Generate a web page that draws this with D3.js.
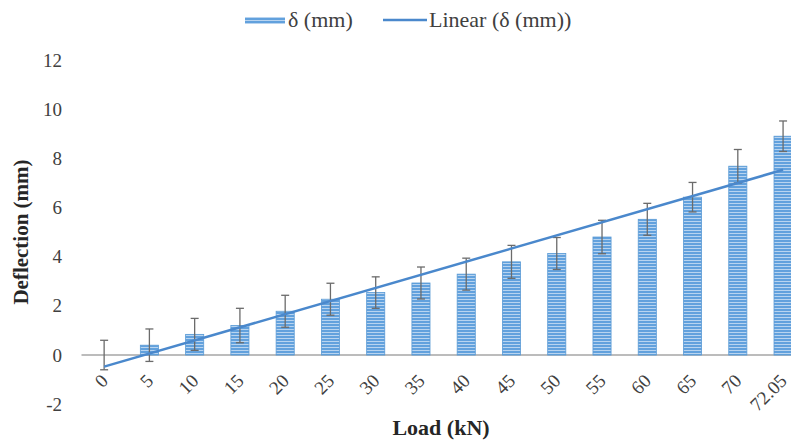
<!DOCTYPE html>
<html><head><meta charset="utf-8">
<script src="https://cdn.jsdelivr.net/npm/d3@7"></script>
</head><body style="margin:0">
<svg id="c" width="791" height="441"></svg>
<script>
const categories = ["0","5","10","15","20","25","30","35","40","45","50","55","60","65","70","72.05"];
const deflection = [0,0.4,0.84,1.2,1.78,2.27,2.54,2.93,3.29,3.79,4.13,4.8,5.52,6.42,7.68,8.9];
const errorAmt = [0.6,0.66,0.65,0.7,0.65,0.65,0.64,0.65,0.65,0.67,0.65,0.68,0.65,0.6,0.68,0.62];
const yTicks = [-2,0,2,4,6,8,10,12];
const seriesName = "δ (mm)";
const trendName = "Linear (δ (mm))";

const svg = d3.select("#c").style("display","block").style("font-family",`"Liberation Serif"`);
const FONT = `"Liberation Serif"`;

const x = d3.scaleBand().domain(categories).range([81.5, 805.7]).padding(0);
const y = d3.scaleLinear().domain([-2, 12]).range([404.2, 60]);
const barW = x.bandwidth() * 0.4;
const cx = c => x(c) + x.bandwidth() / 2;

// pattern
const defs = svg.append("defs");
const pat = defs.append("pattern").attr("id","stripes").attr("patternUnits","userSpaceOnUse")
  .attr("width",6).attr("height",3);
pat.append("rect").attr("width",6).attr("height",3).attr("fill","#62a1dd");
pat.append("rect").attr("y",2).attr("width",6).attr("height",1).attr("fill","#b8d4f0");

// x axis line
svg.append("line").attr("x1",81.5).attr("x2",805).attr("y1",y(0)).attr("y2",y(0))
  .attr("stroke","#a6a6a6").attr("stroke-width",1.5);

// bars
const data = categories.map((c,i)=>({c, v:deflection[i], e:errorAmt[i], i}));
svg.append("g").selectAll("rect").data(data.filter(d=>d.v!==0)).join("rect")
  .attr("x", d => cx(d.c) - barW/2)
  .attr("width", barW)
  .attr("y", d => Math.min(y(d.v), y(0)))
  .attr("height", d => Math.abs(y(d.v) - y(0)))
  .attr("fill","url(#stripes)")
  .attr("stroke","#5b9bd5").attr("stroke-width",0.8);

// error bars
const eg = svg.append("g").attr("stroke","#6b6b6b").attr("stroke-width",1.3).attr("fill","none");
data.forEach(d=>{
  const xc = cx(d.c);
  eg.append("line").attr("x1",xc).attr("x2",xc).attr("y1",y(d.v+d.e)).attr("y2",y(d.v-d.e));
  eg.append("line").attr("x1",xc-4).attr("x2",xc+4).attr("y1",y(d.v+d.e)).attr("y2",y(d.v+d.e));
  eg.append("line").attr("x1",xc-4).attr("x2",xc+4).attr("y1",y(d.v-d.e)).attr("y2",y(d.v-d.e));
});

// linear trendline (least squares over category index)
const n = data.length;
const mx = d3.mean(data, d=>d.i), my = d3.mean(data, d=>d.v);
const slope = d3.sum(data, d=>(d.i-mx)*(d.v-my)) / d3.sum(data, d=>(d.i-mx)**2);
const icpt = my - slope*mx;
const trend = [data[0], data[n-1]].map(d=>[cx(d.c), y(icpt + slope*d.i)]);
svg.append("path").attr("d", d3.line()(trend)).attr("stroke","#4a88cc").attr("stroke-width",2.5).attr("fill","none");

// y axis labels
const yAxis = d3.axisLeft(y).tickValues(yTicks).tickSize(0).tickPadding(0).tickFormat(d => String(d));
const ya = svg.append("g").attr("transform","translate(62,0)").call(yAxis);
ya.select(".domain").remove();
ya.attr("font-family", null).attr("font-size", null);
ya.selectAll("text").style("font-family",FONT).style("font-size","19px").attr("fill","#404040");

// x axis labels
const xAxis = d3.axisBottom(x).tickSize(0).tickPadding(0);
const xa = svg.append("g").attr("transform",`translate(0,${y(0)})`).call(xAxis);
xa.select(".domain").remove();
xa.attr("font-family", null).attr("font-size", null);
xa.selectAll("text").style("font-family",FONT).style("font-size","19px").attr("fill","#404040")
  .attr("text-anchor","end").attr("dy",null).attr("y",0)
  .attr("transform","translate(5,27) rotate(-45)");

// axis titles
svg.append("text").attr("transform","translate(28,232) rotate(-90)").attr("text-anchor","middle")
  .style("font-family",FONT).style("font-weight","bold").style("font-size","21px").attr("fill","#262626")
  .text("Deflection (mm)");
svg.append("text").attr("x",441).attr("y",435).attr("text-anchor","middle")
  .style("font-family",FONT).style("font-weight","bold").style("font-size","22px").attr("fill","#262626")
  .text("Load (kN)");

// legend
svg.append("rect").attr("x",245).attr("y",17).attr("width",40).attr("height",7).attr("fill","url(#stripes)");
svg.append("text").attr("x",288).attr("y",27).style("font-family",FONT).style("font-size","22px").attr("fill","#404040").text(seriesName);
svg.append("line").attr("x1",383).attr("x2",427).attr("y1",20).attr("y2",20).attr("stroke","#4a88cc").attr("stroke-width",2.5);
svg.append("text").attr("x",429).attr("y",27).style("font-family",FONT).style("font-size","22px").attr("fill","#404040").text(trendName);
</script>
</body></html>
